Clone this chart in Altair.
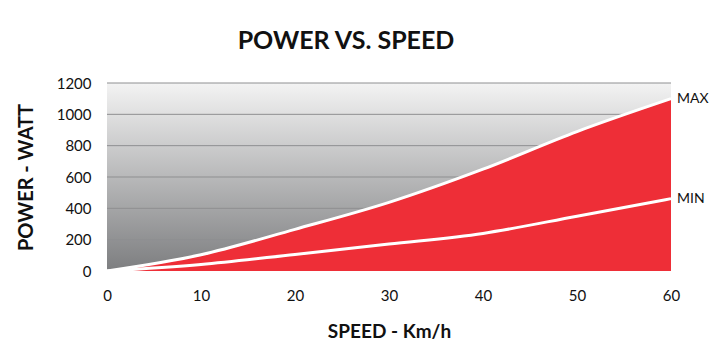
import altair as alt
import pandas as pd

speed = [0, 10, 20, 30, 40, 50, 60]
power_max = [0, 104, 266, 438, 650, 890, 1100]
power_min = [0, 42, 106, 172, 240, 350, 462]
grid_values = [200, 400, 600, 800, 1000, 1200]
x_ticks = [0, 10, 20, 30, 40, 50, 60]
y_ticks = [0, 200, 400, 600, 800, 1000, 1200]

W, H = 564, 188
FONT = "Lato"

df = pd.DataFrame({"speed": speed, "max": power_max, "min": power_min})
ends = pd.DataFrame({
    "speed": [speed[-1], speed[-1]],
    "power": [power_max[-1], power_min[-1]],
    "label": ["MAX", "MIN"],
})
grid_df = pd.DataFrame({"g": grid_values})

xs = alt.Scale(domain=[0, 60], nice=False)
ys = alt.Scale(domain=[0, 1200], nice=False)

x_axis = alt.Axis(values=x_ticks, domain=False, ticks=False, grid=False,
                  format="d", labelOverlap=False, labelFlush=False,
                  labelFont=FONT, labelFontSize=15, labelColor="#111",
                  labelPadding=17, title="SPEED - Km/h", titleFont=FONT,
                  titleFontSize=19, titleFontWeight="bold", titleColor="#111",
                  titlePadding=19)
y_axis = alt.Axis(values=y_ticks, domain=False, ticks=False, grid=False,
                  format="d", labelOverlap=False, labelFlush=False,
                  labelFont=FONT, labelFontSize=15, labelColor="#111",
                  labelPadding=16, title="POWER - WATT", titleFont=FONT,
                  titleFontSize=20, titleFontWeight="bold", titleColor="#111",
                  titlePadding=20)


def X(field):
    return alt.X(field, scale=xs, axis=x_axis)


def Y(field):
    return alt.Y(field, scale=ys, axis=y_axis)


bg = alt.Chart(pd.DataFrame({"a": [0]})).mark_rect(
    color=alt.Gradient(
        gradient="linear",
        stops=[alt.GradientStop(color="#f3f3f3", offset=0),
               alt.GradientStop(color="#7d7e80", offset=1)],
        x1=0, x2=0, y1=0, y2=1,
    )
).encode(x=alt.value(0), x2=alt.value(W), y=alt.value(0), y2=alt.value(H))

grid = alt.Chart(grid_df).mark_rule(color="#8e8f91", strokeWidth=1).encode(
    y=Y("g:Q")
)

area = alt.Chart(df).mark_area(color="#ee2e37", opacity=1, interpolate="monotone").encode(
    x=X("speed:Q"), y=Y("max:Q")
)

line_max = alt.Chart(df).mark_line(color="white", strokeWidth=3, interpolate="monotone").encode(
    x=X("speed:Q"), y=Y("max:Q")
)
line_min = alt.Chart(df).mark_line(color="white", strokeWidth=3, interpolate="monotone").encode(
    x=X("speed:Q"), y=Y("min:Q")
)

labels = alt.Chart(ends).mark_text(
    align="left", baseline="middle", dx=6, font=FONT, fontSize=14, color="#111"
).encode(x=X("speed:Q"), y=Y("power:Q"), text="label:N")

title = alt.Chart(pd.DataFrame({"t": ["POWER VS. SPEED"]})).mark_text(
    font=FONT, fontSize=25, fontWeight="bold", color="#111", align="center", baseline="middle"
).encode(x=alt.value(239), y=alt.value(-42), text="t:N")

chart = alt.layer(bg, grid, area, line_max, line_min, labels, title).properties(
    width=W, height=H,
    autosize=alt.AutoSizeParams(type="none"),
    padding={"left": 99, "top": 75, "right": 40, "bottom": 70},
    background="white",
).configure_view(strokeWidth=0)

chart.save("out.html", embed_options={"renderer": "svg", "actions": False})
